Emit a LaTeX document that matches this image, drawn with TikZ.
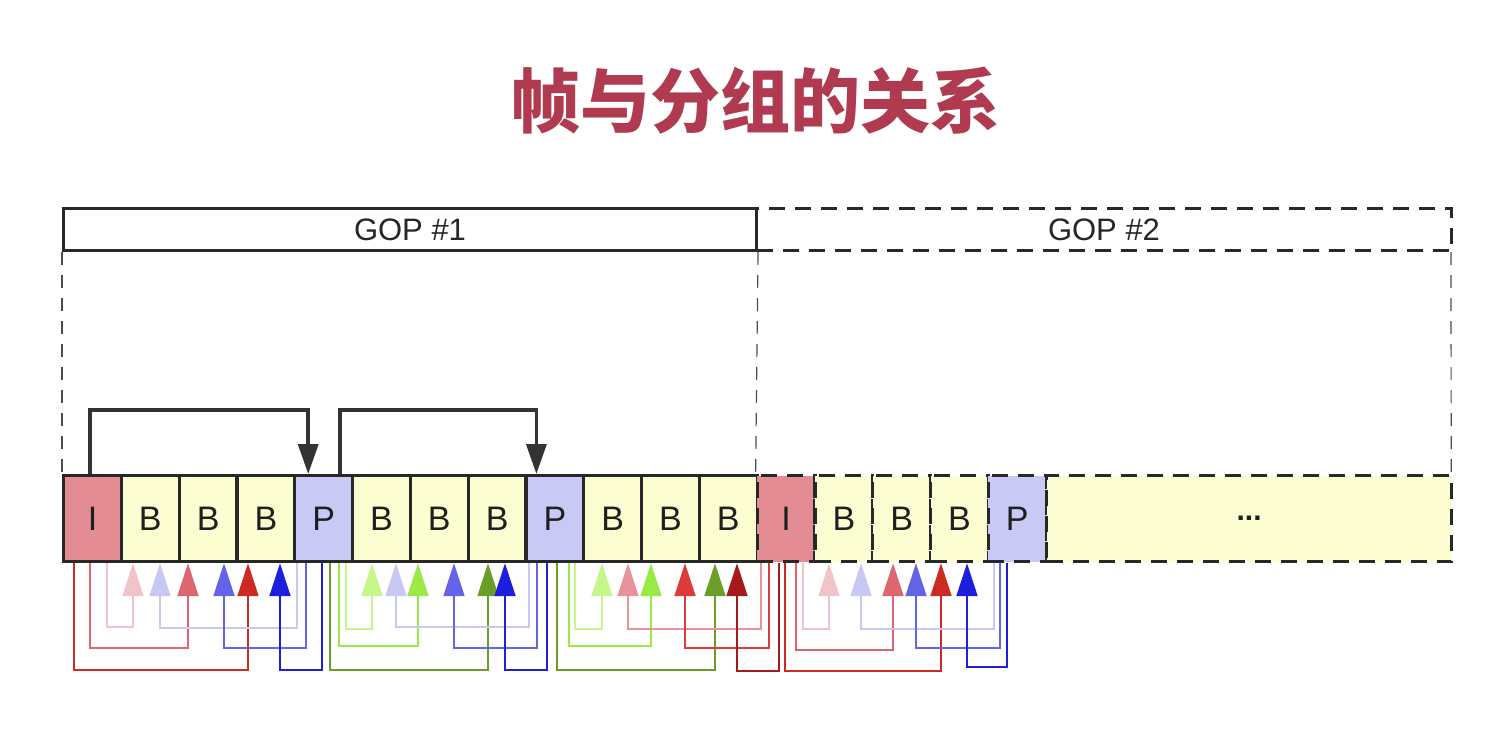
\documentclass[tikz,border=0pt]{standalone}
\usepackage{fontspec}
\setmainfont{Liberation Sans}
\newfontfamily\cjk{Noto Sans CJK SC}
\usetikzlibrary{arrows.meta,calc}
\definecolor{titlec}{RGB}{176,58,80}
\definecolor{edgec}{RGB}{40,40,40}
\definecolor{ifill}{RGB}{228,140,148}
\definecolor{bfill}{RGB}{253,253,210}
\definecolor{pfill}{RGB}{201,201,245}
\definecolor{lpink}{RGB}{242,196,202}
\definecolor{mred}{RGB}{222,102,112}
\definecolor{dred}{RGB}{204,42,34}
\definecolor{lav}{RGB}{200,200,244}
\definecolor{mblue}{RGB}{100,100,232}
\definecolor{dblue}{RGB}{30,30,221}
\definecolor{llgreen}{RGB}{198,245,138}
\definecolor{lgreen}{RGB}{153,234,68}
\definecolor{dgreen}{RGB}{106,158,38}
\definecolor{pinkb}{RGB}{232,147,155}
\definecolor{redb}{RGB}{221,58,58}
\definecolor{dredb}{RGB}{165,27,27}
\tikzset{
  frame/.style={draw=edgec, line width=1.6pt, minimum width=28.9pt, minimum height=43pt,
    inner sep=0pt, anchor=north west, font=\fontsize{17pt}{17pt}\selectfont, text=black!88},
  dashframe/.style={frame, dash pattern=on 8pt off 5pt},
  gop/.style={draw=edgec, line width=1.5pt, minimum height=21pt, inner sep=0pt,
    anchor=north west, font=\fontsize{15.5pt}{15.5pt}\selectfont, text=black!85},
  guide/.style={draw=black!70, line width=0.6pt, dash pattern=on 6.5pt off 5pt},
  toparrow/.style={draw=black!80, line width=1.75pt, -{Triangle[width=10pt,length=15pt]}},
  link/.style={line width=1pt, -{Triangle[width=10.5pt,length=16.5pt]}}
}
\newcommand\framelink[6]{%
  \draw[link,#1] ($(#2.south west)+(#3,0)$) -- ++(0,#6) -| ($(#4.south west)+(#5,0)$);}
\begin{document}
\begin{tikzpicture}[x=0.5pt,y=-0.5pt]
\useasboundingbox (0,0) rectangle (1506,740);
% title
\node[text=titlec, font=\cjk\bfseries\fontsize{35pt}{40pt}\selectfont] (title) at (755,101) {帧与分组的关系};
% GOP boxes
\node[gop, minimum width=346.5pt] (g1) at (62,207) {GOP \#1};
\node[gop, minimum width=347.5pt, dash pattern=on 8pt off 5pt] (g2) at (755,207) {GOP \#2};
% frames
\foreach \k/\t/\c in {0/I/ifill,1/B/bfill,2/B/bfill,3/B/bfill,4/P/pfill,5/B/bfill,6/B/bfill,7/B/bfill,8/P/pfill,9/B/bfill,10/B/bfill,11/B/bfill}
  \node[frame, fill=\c] (f\k) at ({62+57.8*\k},474) {\t};
\foreach \k/\t/\c in {12/I/ifill,13/B/bfill,14/B/bfill,15/B/bfill,16/P/pfill}
  \node[dashframe, fill=\c] (f\k) at ({62+57.8*\k},474) {\t};
\node[dashframe, fill=bfill, minimum width=202.5pt, font=\bfseries\fontsize{15pt}{15pt}\selectfont] (more) at (1045,474) {...};
% guides
\draw[guide] (g1.south west) -- (f0.north west);
\draw[guide] (g1.south east) -- (f12.north west);
\draw[guide] ($(g2.south east)+(-2,0)$) -- ($(more.north east)+(-2,0)$);
% top arrows
\draw[toparrow] ($(f0.north west)+(28,0)$) -- ++(0,-64) -| ($(f4.north west)+(15,0)$);
\draw[toparrow] ($(f4.north west)+(47,0)$) -- ++(0,-64) -| ($(f8.north west)+(12,0)$);
% bottom links
\framelink{lpink}{f0}{45}{f1}{13.2}{64}
\framelink{mred}{f0}{28}{f2}{10.4}{85}
\framelink{dred}{f0}{12}{f3}{12.6}{107}
\framelink{lav}{f4}{3.8}{f1}{40.2}{65}
\framelink{mblue}{f4}{12.8}{f2}{46.4}{85}
\framelink{dblue}{f4}{28.8}{f3}{44.6}{107}
\framelink{dgreen}{f4}{36.8}{f7}{21.4}{107}
\framelink{lgreen}{f4}{45.8}{f6}{9.2}{83}
\framelink{llgreen}{f4}{52.8}{f5}{21}{66}
\framelink{lav}{f8}{4.6}{f5}{45}{64}
\framelink{mblue}{f8}{12.6}{f6}{45.2}{85}
\framelink{dblue}{f8}{22.6}{f7}{38.4}{107}
\framelink{dgreen}{f8}{32.6}{f11}{17.2}{107}
\framelink{lgreen}{f8}{44.6}{f10}{11}{83}
\framelink{llgreen}{f8}{50.6}{f9}{19.8}{66}
\framelink{pinkb}{f12}{5.4}{f9}{45.8}{66}
\framelink{redb}{f12}{13.4}{f10}{45}{85}
\framelink{dredb}{f12}{23.4}{f11}{39.2}{108}
\framelink{dred}{f12}{29.4}{f15}{12}{108}
\framelink{mred}{f12}{40.4}{f14}{21.8}{87}
\framelink{lpink}{f12}{47.4}{f13}{15.6}{66}
\framelink{lav}{f16}{7.2}{f13}{47.6}{66}
\framelink{mblue}{f16}{13.2}{f14}{44.8}{85}
\framelink{dblue}{f16}{20.2}{f15}{38}{104}
\end{tikzpicture}
\end{document}
